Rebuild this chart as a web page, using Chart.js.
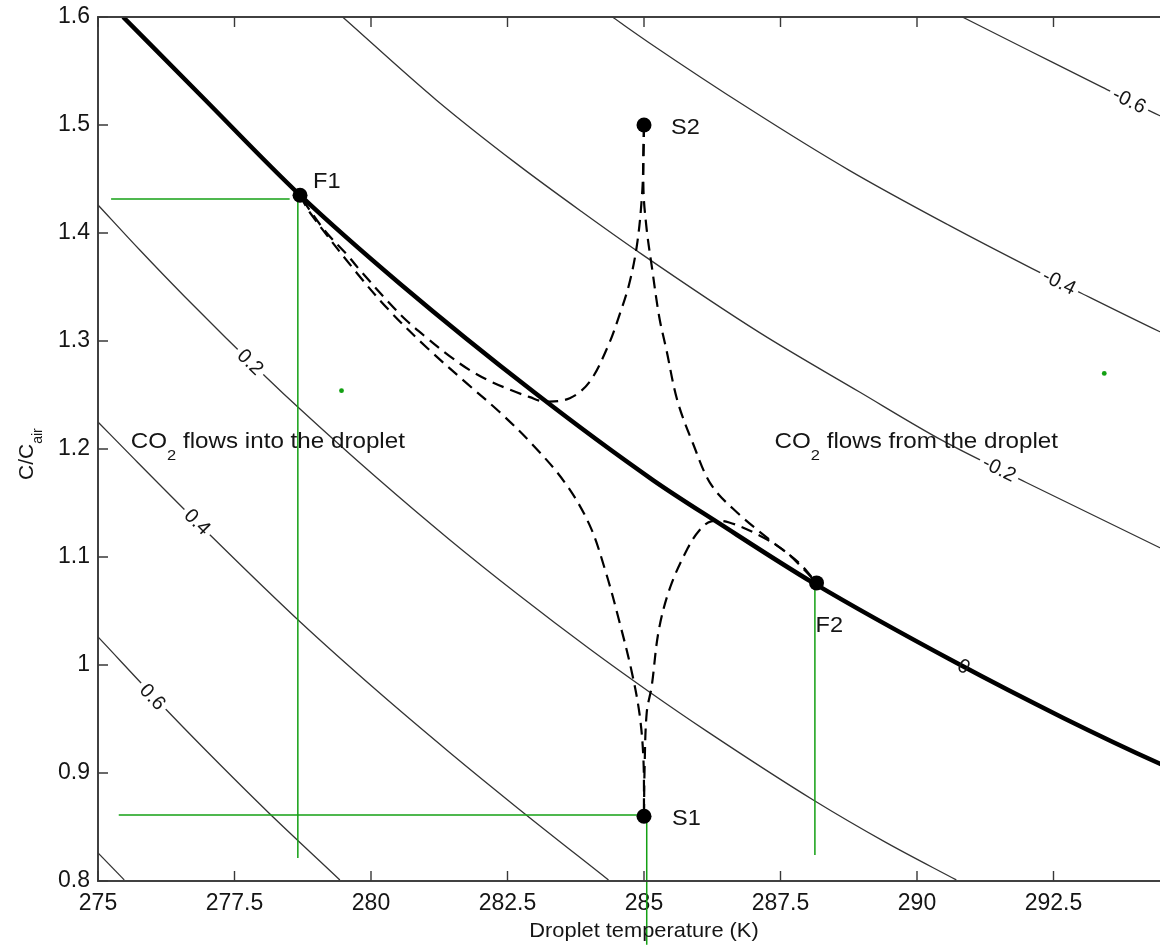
<!DOCTYPE html>
<html lang="en">
<head>
<meta charset="utf-8">
<title>CO2 flux into a droplet</title>
<script src="https://cdn.jsdelivr.net/npm/chart.js@4.4.1/dist/chart.umd.min.js"></script>
<style>
    html, body { margin: 0; padding: 0; overflow: hidden; background: #ffffff; }
    #contenedor { width: 1210px; height: 945px; }
</style>
</head>
<body>
<div id="contenedor"><canvas id="grafico" width="1210" height="945"></canvas></div>
<script>
// axis ticks
const xTicks = [275, 277.5, 280, 282.5, 285, 287.5, 290, 292.5, 295];
const xTickLabels = ["275", "277.5", "280", "282.5", "285", "287.5", "290", "292.5", "295"];
const yTicks = [0.8, 0.9, 1.0, 1.1, 1.2, 1.3, 1.4, 1.5, 1.6];
const yTickLabels = ["0.8", "0.9", "1", "1.1", "1.2", "1.3", "1.4", "1.5", "1.6"];

// contour lines (droplet temperature K, C/Cair)
const contour02T = [275.00, 275.77, 276.59, 278.09, 278.70, 280.09, 281.44, 282.70, 284.00, 285.10, 286.14, 288.10, 289.42, 290.72];
const contour02C = [1.426, 1.384, 1.341, 1.266, 1.237, 1.174, 1.116, 1.065, 1.015, 0.975, 0.939, 0.875, 0.836, 0.801];
const contour04T = [275.00, 275.64, 277.10, 278.70, 280.09, 281.44, 282.70, 284.35];
const contour04C = [1.225, 1.192, 1.118, 1.040, 0.977, 0.919, 0.867, 0.801];
const contour06T = [275.00, 276.30, 277.21, 278.13, 279.43];
const contour06C = [1.026, 0.956, 0.909, 0.863, 0.801];
const contour08T = [275.00, 275.48];
const contour08C = [0.826, 0.801];
const zeroT = [275.46, 276.87, 278.70, 280.53, 283.00, 285.17, 286.35, 288.10, 290.72, 292.68, 294.43, 294.98];
const zeroC = [1.600, 1.528, 1.435, 1.353, 1.252, 1.171, 1.132, 1.076, 1.002, 0.951, 0.909, 0.897];
const contourM02T = [279.48, 281.20, 282.67, 283.88, 284.97, 287.11, 288.94, 290.46, 292.00, 294.43, 294.98];
const contourM02C = [1.600, 1.523, 1.464, 1.419, 1.380, 1.308, 1.253, 1.208, 1.169, 1.109, 1.096];
const contourM04T = [284.42, 285.10, 286.93, 288.76, 290.59, 292.11, 293.02, 294.43, 294.98];
const contourM04C = [1.600, 1.576, 1.515, 1.458, 1.407, 1.367, 1.344, 1.309, 1.296];
const contourM06T = [290.83, 292.05, 293.39, 294.43, 294.98];
const contourM06C = [1.600, 1.569, 1.535, 1.509, 1.496];

// contour labels
const labelText = ["0.2", "0.4", "0.6", "0", "-0.2", "-0.4", "-0.6"];
const labelT = [277.78, 276.81, 275.99, 290.85, 291.50, 292.60, 293.88];
const labelC = [1.280, 1.132, 0.970, 0.998, 1.181, 1.354, 1.522];

// trajectories (dashed)
const traj1T = [285.00, 284.99, 284.97, 284.88, 284.74, 284.57, 284.33, 284.00, 283.64, 283.18, 282.91, 282.54, 282.17, 281.81, 281.44, 281.02, 280.65, 280.34, 279.79, 279.56, 279.19, 278.88, 278.70];
const traj1C = [1.500, 1.477, 1.440, 1.392, 1.355, 1.327, 1.294, 1.262, 1.247, 1.244, 1.248, 1.255, 1.263, 1.273, 1.286, 1.303, 1.319, 1.335, 1.366, 1.380, 1.400, 1.421, 1.435];
const traj2T = [285.00, 284.99, 285.05, 285.14, 285.28, 285.41, 285.61, 285.89, 286.23, 286.71, 287.30, 287.85, 288.16];
const traj2C = [1.500, 1.440, 1.403, 1.370, 1.322, 1.292, 1.245, 1.206, 1.167, 1.141, 1.116, 1.094, 1.076];
const traj3T = [278.70, 278.88, 279.74, 280.34, 281.02, 281.75, 282.36, 282.96, 283.55, 284.00, 284.30, 284.55, 284.77, 284.92, 284.99, 285.00];
const traj3C = [1.435, 1.419, 1.363, 1.328, 1.294, 1.261, 1.234, 1.204, 1.169, 1.130, 1.086, 1.040, 0.995, 0.954, 0.912, 0.860];
const traj4T = [285.00, 285.01, 285.05, 285.14, 285.27, 285.48, 285.80, 286.02, 286.23, 286.56, 287.15, 287.59, 287.94, 288.16];
const traj4C = [0.860, 0.903, 0.956, 0.980, 1.032, 1.072, 1.108, 1.125, 1.133, 1.132, 1.119, 1.105, 1.088, 1.076];

// fixed points
const pointNames = ["F1", "F2", "S1", "S2"];
const pointT = [278.70, 288.16, 285.00, 285.00];
const pointC = [1.435, 1.076, 0.860, 1.500];

// green guide lines drawn on the figure
const guideT = [[275.24, 278.51], [278.66, 278.66], [275.38, 285.00], [285.05, 285.05], [288.13, 288.13]];
const guideC = [[1.4315, 1.4315], [1.4315, 0.8213], [0.861, 0.861], [0.861, 0.741], [1.076, 0.824]];
const strayT = [279.46, 293.43];
const strayC = [1.254, 1.270];

// region notes
const regionText = ["flows into the droplet", "flows from the droplet"];
const regionT = [275.60, 287.39];
const regionC = [1.2083, 1.2083];

const FONT = "'Liberation Sans', Arial, Helvetica, sans-serif";
const INK = "#151515";
const nameOffsets = [[13, -7], [-1, 49], [28, 9], [27, 9]];

function toPoints(xs, ys) {
    return xs.map((v, i) => ({ x: v, y: ys[i] }));
}

const thinLines = [
    [contour02T, contour02C],
    [contour04T, contour04C],
    [contour06T, contour06C],
    [contour08T, contour08C],
    [contourM02T, contourM02C],
    [contourM04T, contourM04C],
    [contourM06T, contourM06C],
];
const labelLines = [thinLines[0], thinLines[1], thinLines[2], [zeroT, zeroC], thinLines[4], thinLines[5], thinLines[6]];

const datasets = [];
datasets.push({
    data: toPoints(pointT, pointC),
    pointRadius: 7.5,
    pointBackgroundColor: "#000",
    pointBorderWidth: 0,
});
datasets.push({
    data: toPoints(strayT, strayC),
    pointRadius: 2.4,
    pointBackgroundColor: "#12a012",
    pointBorderWidth: 0,
});
guideT.forEach((g, i) => {
    datasets.push({
        data: toPoints(g, guideC[i]),
        showLine: true,
        pointRadius: 0,
        borderColor: "#14a014",
        borderWidth: 1.5,
        clip: false,
    });
});
[[traj1T, traj1C], [traj2T, traj2C], [traj3T, traj3C], [traj4T, traj4C]].forEach(([t, c]) => {
    datasets.push({
        data: toPoints(t, c),
        showLine: true,
        pointRadius: 0,
        borderColor: "#000",
        borderWidth: 2.2,
        borderDash: [12, 7],
        tension: 0.35,
    });
});
datasets.push({
    data: toPoints(zeroT, zeroC),
    showLine: true,
    pointRadius: 0,
    borderColor: "#000",
    borderWidth: 4.5,
    cubicInterpolationMode: "monotone",
});
thinLines.forEach(([t, c]) => {
    datasets.push({
        data: toPoints(t, c),
        showLine: true,
        pointRadius: 0,
        borderColor: "#333",
        borderWidth: 1.3,
        cubicInterpolationMode: "monotone",
    });
});

// "CO" + subscript 2 + rest, a little wider like the original print
function co2Text(ctx, rest, x, y) {
    ctx.save();
    ctx.translate(x, y);
    ctx.scale(1.1, 1);
    ctx.textAlign = "left";
    ctx.textBaseline = "alphabetic";
    ctx.font = `22px ${FONT}`;
    ctx.fillText("CO", 0, 8);
    let w = ctx.measureText("CO").width;
    ctx.font = `15px ${FONT}`;
    ctx.fillText("2", w, 20);
    w += ctx.measureText("2").width;
    ctx.font = `22px ${FONT}`;
    ctx.fillText(" " + rest, w, 8);
    ctx.restore();
}

const anotaciones = {
    id: "anotaciones",
    afterDatasetsDraw(chart) {
        const { ctx, scales: { x, y } } = chart;
        ctx.save();
        ctx.fillStyle = INK;

        // contour labels, turned along their line
        ctx.font = `20px ${FONT}`;
        labelText.forEach((txt, i) => {
            const [ts, cs] = labelLines[i];
            let j = 0;
            while (j < ts.length - 2 && ts[j + 1] < labelT[i]) j++;
            const ang = Math.atan2(
                y.getPixelForValue(cs[j + 1]) - y.getPixelForValue(cs[j]),
                x.getPixelForValue(ts[j + 1]) - x.getPixelForValue(ts[j])
            );
            const w = ctx.measureText(txt).width;
            ctx.save();
            ctx.translate(x.getPixelForValue(labelT[i]), y.getPixelForValue(labelC[i]));
            ctx.rotate(ang);
            if (txt !== "0") {
                ctx.fillStyle = "#fff";
                ctx.fillRect(-w / 2 - 4, -8, w + 8, 16);
            }
            ctx.fillStyle = INK;
            ctx.textAlign = "center";
            ctx.textBaseline = "middle";
            ctx.fillText(txt, 0, 0);
            ctx.restore();
        });

        // point names
        ctx.font = `22px ${FONT}`;
        ctx.textAlign = "left";
        ctx.textBaseline = "alphabetic";
        pointNames.forEach((n, i) => {
            const px = x.getPixelForValue(pointT[i]) + nameOffsets[i][0];
            const py = y.getPixelForValue(pointC[i]) + nameOffsets[i][1];
            ctx.save();
            ctx.translate(px, py);
            ctx.scale(1.07, 1);
            ctx.fillText(n, 0, 0);
            ctx.restore();
        });

        regionText.forEach((txt, i) => {
            co2Text(ctx, txt, x.getPixelForValue(regionT[i]), y.getPixelForValue(regionC[i]));
        });
        ctx.restore();
    },
    afterDraw(chart) {
        const { ctx, chartArea: a, scales: { x, y } } = chart;
        ctx.save();
        ctx.strokeStyle = "#383838";
        ctx.lineWidth = 1.9;
        ctx.strokeRect(a.left, a.top, a.right - a.left, a.bottom - a.top);
        ctx.lineWidth = 1.4;
        ctx.beginPath();
        xTicks.forEach((v) => {
            const p = x.getPixelForValue(v);
            ctx.moveTo(p, a.bottom);
            ctx.lineTo(p, a.bottom - 10);
            ctx.moveTo(p, a.top);
            ctx.lineTo(p, a.top + 10);
        });
        yTicks.forEach((v) => {
            const p = y.getPixelForValue(v);
            ctx.moveTo(a.left, p);
            ctx.lineTo(a.left + 10, p);
            ctx.moveTo(a.right, p);
            ctx.lineTo(a.right - 10, p);
        });
        ctx.stroke();

        // axis titles
        ctx.fillStyle = INK;
        ctx.font = `21px ${FONT}`;
        ctx.textAlign = "center";
        ctx.textBaseline = "middle";
        ctx.save();
        ctx.translate((a.left + a.right) / 2, a.bottom + 50);
        ctx.scale(1.04, 1);
        ctx.fillText("Droplet temperature (K)", 0, 0);
        ctx.restore();

        ctx.translate(33, 480);
        ctx.rotate(-Math.PI / 2);
        ctx.textAlign = "left";
        ctx.textBaseline = "alphabetic";
        ctx.fillText("C/C", 0, 0);
        const w = ctx.measureText("C/C").width;
        ctx.font = `14px ${FONT}`;
        ctx.fillText("air", w, 9);
        ctx.restore();
    },
};

new Chart(document.getElementById("grafico").getContext("2d"), {
    type: "scatter",
    data: { datasets: datasets },
    options: {
        responsive: false,
        animation: false,
        events: [],
        layout: { padding: { top: 17, right: 20, left: 0, bottom: 0 } },
        plugins: { legend: { display: false }, tooltip: { enabled: false } },
        scales: {
            x: {
                type: "linear",
                min: 275,
                max: 295,
                afterBuildTicks: (s) => { s.ticks = xTicks.map((v) => ({ value: v })); },
                afterFit: (s) => { s.height = 64; s.paddingLeft = 0; s.paddingRight = 0; },
                grid: { display: false, drawTicks: false },
                border: { display: false },
                ticks: {
                    callback: (v) => xTickLabels[xTicks.indexOf(v)],
                    font: { size: 23, family: FONT },
                    color: INK,
                    padding: 9,
                    maxRotation: 0,
                    autoSkip: false,
                },
            },
            y: {
                type: "linear",
                min: 0.8,
                max: 1.6,
                afterBuildTicks: (s) => { s.ticks = yTicks.map((v) => ({ value: v })); },
                afterFit: (s) => { s.width = 98; s.paddingTop = 0; s.paddingBottom = 0; },
                grid: { display: false, drawTicks: false },
                border: { display: false },
                ticks: {
                    callback: (v) => yTickLabels[yTicks.indexOf(v)],
                    font: { size: 23, family: FONT },
                    color: INK,
                    padding: 8,
                    autoSkip: false,
                },
            },
        },
    },
    plugins: [anotaciones],
});
</script>
</body>
</html>
